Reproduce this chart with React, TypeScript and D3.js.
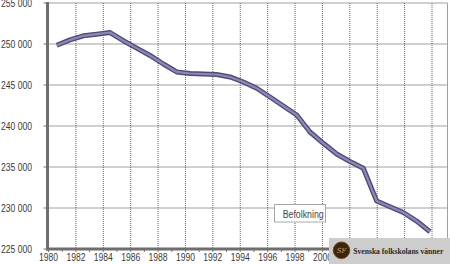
import React from "react";
import * as d3 from "d3";

const years = [1980, 1981, 1982, 1983, 1984, 1985, 1986, 1987, 1988, 1989, 1990, 1991, 1992, 1993, 1994, 1995, 1996, 1997, 1998, 1999, 2000, 2001, 2002, 2003, 2004, 2005, 2006, 2007, 2008];
const population = [249850, 250500, 251000, 251200, 251400, 250400, 249500, 248600, 247560, 246590, 246400, 246340, 246280, 245980, 245370, 244600, 243540, 242440, 241340, 239270, 237890, 236590, 235670, 234840, 230850, 230160, 229450, 228410, 227110];
const xTickLabels = ["1980", "1982", "1984", "1986", "1988", "1990", "1992", "1994", "1996", "1998", "2000", "2002", "2004", "2006", "2008"];
const yTicks = [225000, 230000, 235000, 240000, 245000, 250000, 255000];
const seriesName = "Befolkning";
const brandName = "Svenska folkskolans vänner";

const W = 450;
const H = 264;
const plotLeft = 47.5;
const plotRight = 447.5;
const plotTop = 3;
const plotBottom = 249;

export default function App() {
  const y = d3.scaleLinear().domain([225000, 255000]).range([plotBottom, plotTop]);
  // axis (labels / gridlines) scale
  const xAxis = d3.scaleLinear().domain([1980, 2008]).range([48.5, 432]);
  // category positions of the data points
  const xData = d3.scaleLinear().domain([1980, 2008]).range([56.7, 430]);

  const line = d3
    .line<number>()
    .x((_, i) => xData(years[i]))
    .y((d) => y(d))
    .curve(d3.curveLinear);
  const path = line(population) || "";

  const fmt = (v: number) => d3.format(",")(v).replace(/,/g, " ");
  const font = "'Liberation Sans', Arial, sans-serif";
  const minorYears = d3.range(1980, 2010);

  return (
    <svg width={W} height={H} style={{ position: "absolute", left: 0, top: 0, background: "#fff" }}>
      <rect x={0} y={0} width={W} height={H} fill="#fff" />
      {/* horizontal gridlines */}
      {yTicks.map((t) => (
        <line key={"h" + t} x1={plotLeft} x2={plotRight} y1={y(t)} y2={y(t)} stroke="#a0a0a0" strokeWidth={1} />
      ))}
      {/* vertical dotted gridlines */}
      {xTickLabels.slice(1).map((t) => (
        <line
          key={"v" + t}
          x1={xAxis(+t)}
          x2={xAxis(+t)}
          y1={plotTop}
          y2={plotBottom}
          stroke="#666"
          strokeWidth={1}
          strokeDasharray="1,1"
        />
      ))}
      {/* right border */}
      <line x1={plotRight} x2={plotRight} y1={plotTop} y2={plotBottom} stroke="#a0a0a0" strokeWidth={1} />
      {/* y ticks */}
      {yTicks.map((t) => (
        <line key={"yt" + t} x1={plotLeft - 4} x2={plotLeft} y1={y(t)} y2={y(t)} stroke="#777" strokeWidth={1} />
      ))}
      {/* x minor ticks */}
      {minorYears.map((t) => (
        <line key={"xt" + t} x1={xAxis(t)} x2={xAxis(t)} y1={plotBottom} y2={plotBottom + 3} stroke="#777" strokeWidth={1} />
      ))}
      {/* axes */}
      <line x1={plotLeft} x2={plotLeft} y1={plotTop - 1} y2={plotBottom + 1.5} stroke="#6e6e6e" strokeWidth={3} />
      <line x1={plotLeft - 1.5} x2={plotRight} y1={plotBottom} y2={plotBottom} stroke="#6e6e6e" strokeWidth={3} />
      {/* y labels */}
      {yTicks.map((t) => (
        <text
          key={"yl" + t}
          x={1}
          y={y(t)}
          dy="0.35em"
          textLength={31}
          lengthAdjust="spacingAndGlyphs"
          fontSize={10}
          fontFamily={font}
          fill="#3a3a3a"
        >
          {fmt(t)}
        </text>
      ))}
      {/* x labels */}
      {xTickLabels.map((t) => (
        <text
          key={"xl" + t}
          x={xAxis(+t) - 9.5}
          y={261}
          textLength={19}
          lengthAdjust="spacingAndGlyphs"
          fontSize={10}
          fontFamily={font}
          fill="#3a3a3a"
        >
          {t}
        </text>
      ))}
      {/* series line */}
      <path d={path} fill="none" stroke="#4f4c7a" strokeWidth={5} strokeLinejoin="round" strokeLinecap="butt" />
      <path d={path} fill="none" stroke="#8c89b3" strokeWidth={2.2} strokeLinejoin="round" strokeLinecap="butt" />
      {/* legend */}
      <rect x={274.5} y={204.5} width={51} height={17.5} fill="#fff" stroke="#a8a8a8" strokeWidth={1} />
      <text
        x={282.7}
        y={214}
        dy="0.35em"
        textLength={41}
        lengthAdjust="spacingAndGlyphs"
        fontSize={10}
        fontFamily={font}
        fill="#444"
      >
        {seriesName}
      </text>
      {/* brand */}
      <rect x={329} y={238} width={121} height={26} fill="#cdcdcd" />
      <circle cx={341.5} cy={250.3} r={8.3} fill="#3b2412" stroke="#6b4a22" strokeWidth={1} />
      <text x={341.5} y={250.5} dy="0.35em" textAnchor="middle" fontSize={7} fontStyle="italic" fontFamily="'DejaVu Serif', serif" fill="#c9a14a">
        SF
      </text>
      <text
        x={353.3}
        y={253.5}
        textLength={90}
        lengthAdjust="spacingAndGlyphs"
        fontSize={8.5}
        fontWeight="bold"
        fontFamily="'Liberation Serif', 'DejaVu Serif', serif"
        fill="#2a2a2a"
      >
        {brandName}
      </text>
    </svg>
  );
}
